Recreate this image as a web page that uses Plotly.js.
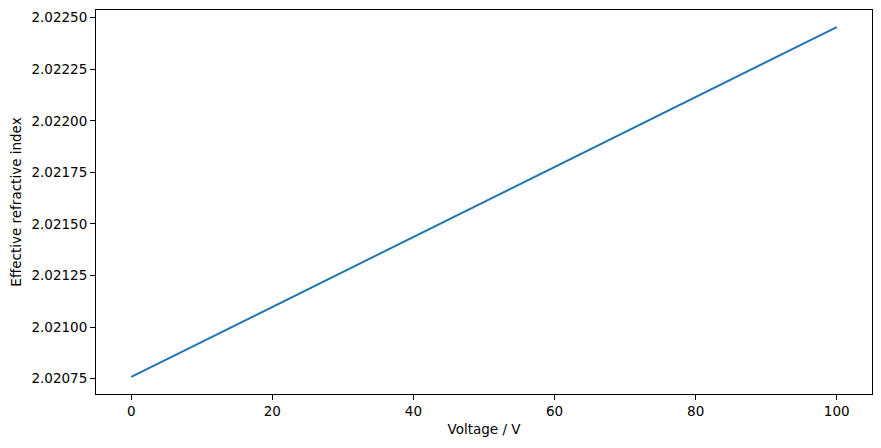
<!DOCTYPE html>
<html>
<head>
<meta charset="utf-8">
<script src="https://cdn.plot.ly/plotly-3.0.1.min.js"></script>
<style>html,body{margin:0;padding:0;background:#fff;}#chart{width:881px;height:448px;}</style>
</head>
<body>
<div id="chart"></div>
<script>
const voltage = [0, 20, 40, 60, 80, 100];
const neff = [2.020759, 2.021098, 2.021437, 2.021776, 2.022115, 2.022454];
const yTicks = [2.02075, 2.02100, 2.02125, 2.02150, 2.02175, 2.02200, 2.02225, 2.02250];
const xTicks = [0, 20, 40, 60, 80, 100];
const xTitle = 'Voltage / V';
const yTitle = 'Effective refractive index';

const font = {family: 'DejaVu Sans', size: 13.5, color: '#000'};
Plotly.newPlot('chart', [{
  x: voltage, y: neff, type: 'scatter', mode: 'lines',
  line: {color: '#1f77b4', width: 2}
}], {
  width: 881, height: 448,
  margin: {l: 96, r: 9, t: 10, b: 54},
  paper_bgcolor: '#fff', plot_bgcolor: '#fff',
  font: font,
  showlegend: false,
  xaxis: {
    range: [-5, 105], tickvals: xTicks, ticktext: xTicks.map(String),
    showgrid: false, zeroline: false, showline: true, mirror: true,
    linecolor: '#000', linewidth: 1, ticks: 'outside', ticklen: 5, tickcolor: '#000',
    tickfont: font,
    title: {text: xTitle, font: font, standoff: 6}
  },
  yaxis: {
    range: [2.020676, 2.022537], tickvals: yTicks, ticktext: yTicks.map(v => v.toFixed(5)),
    showgrid: false, zeroline: false, showline: true, mirror: true,
    linecolor: '#000', linewidth: 1, ticks: 'outside', ticklen: 5, tickcolor: '#000',
    tickfont: font,
    title: {text: yTitle, font: font, standoff: 6}
  }
}, {displayModeBar: false, staticPlot: true});
</script>
</body>
</html>
